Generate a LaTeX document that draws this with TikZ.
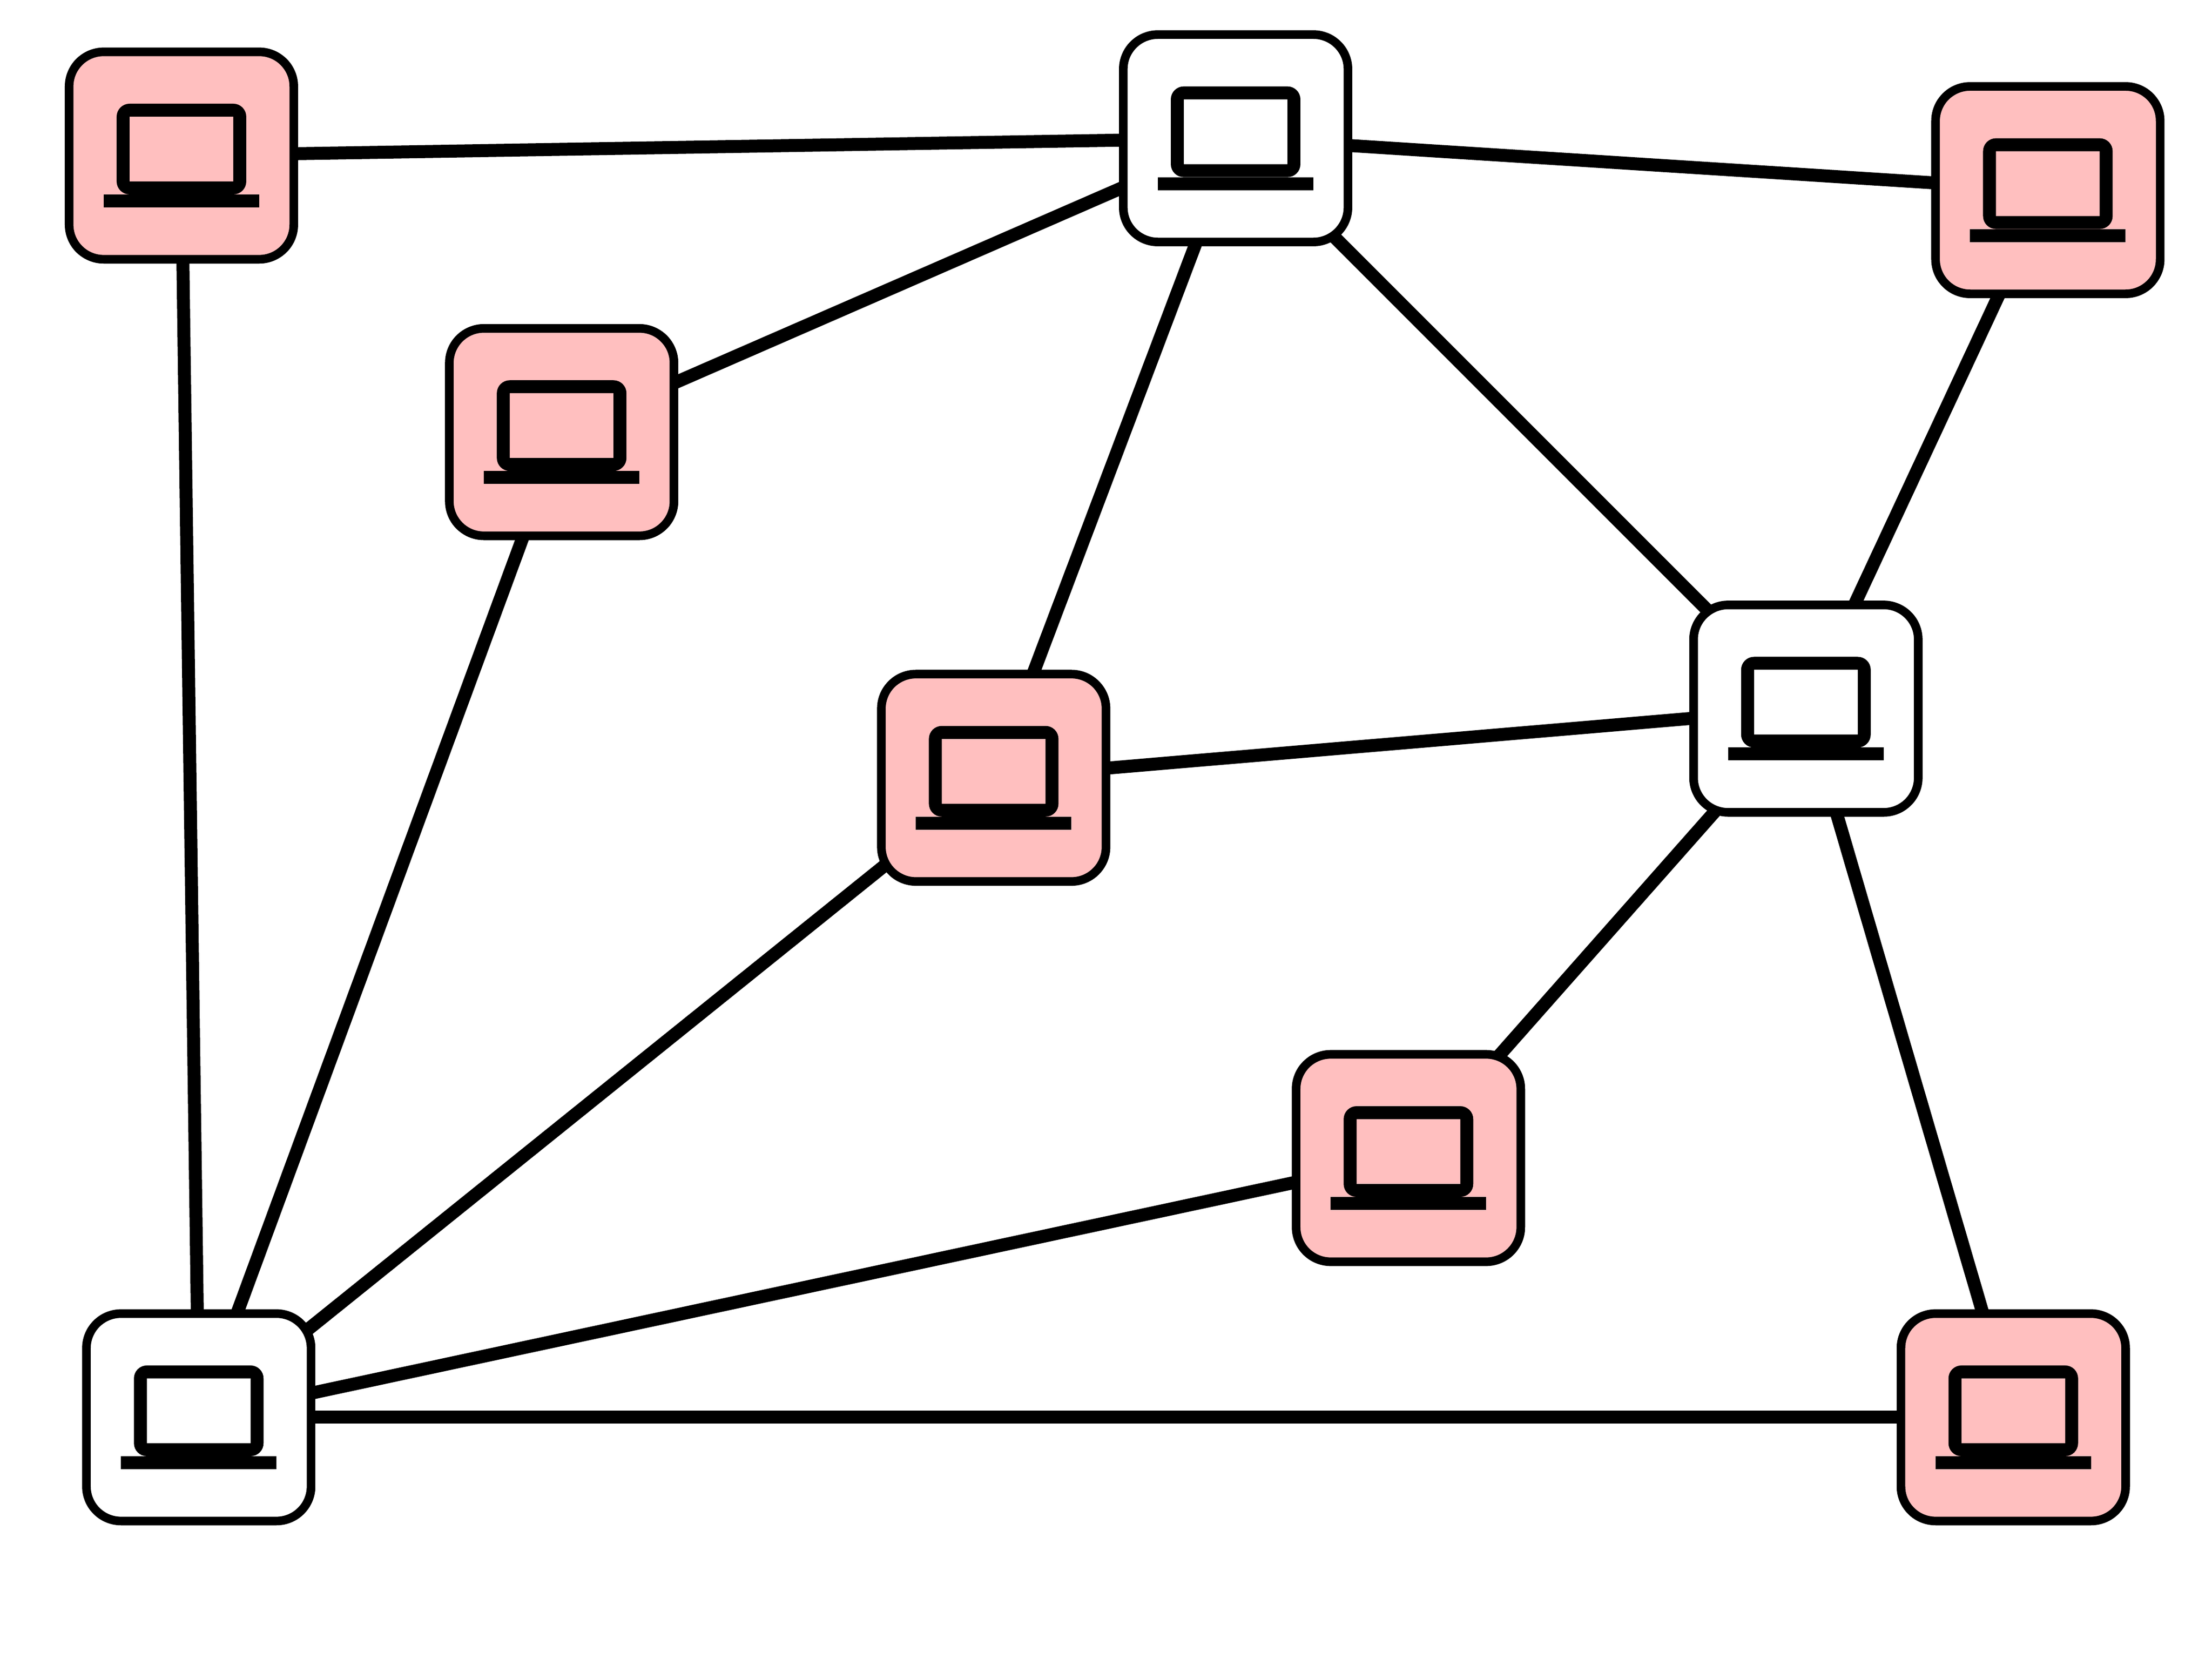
\documentclass[tikz,border=0pt]{standalone}
\usetikzlibrary{backgrounds}
\definecolor{infectedpink}{RGB}{255,191,191}
\tikzset{
  host/.style={draw,rectangle,rounded corners=15pt,line width=3.75pt,
    minimum width=97.5pt,minimum height=90pt,inner sep=0pt,
    path picture={
      \begin{scope}[shift={(path picture bounding box.center)},fill=black,draw=none]
        \fill[even odd rule,rounded corners=5.625pt]
          (-37.5,-30) rectangle (37.5,22.5)
          [sharp corners] (-30,-22.5) rectangle (30,15);
        \fill[sharp corners] (-45,22.5) rectangle (45,30);
      \end{scope}
    }},
  clean/.style={host,fill=white},
  infected/.style={host,fill=infectedpink},
  link/.style={line width=5.625pt}
}
\begin{document}
\begin{tikzpicture}[x=0.75pt,y=-0.75pt]
      \useasboundingbox (0,0) rectangle (1280,959.8);
      \path
        (105,90) node[infected] (0){}
        (715,80) node[clean] (1){}
        (1185,110) node[infected] (2){}
        (325,250) node[infected] (3){}
        (575,450) node[infected] (4){}
        (1045,410) node[clean] (5){}
        (815,670) node[infected] (6){}
        (115,820) node[clean] (7){}
        (1165,820) node[infected] (8){};
      \begin{scope}[on background layer={link}]
        \draw (0.center) to (1.center);
        \draw (0.center) to (7.center);
        \draw (1.center) to (2.center);
        \draw (1.center) to (3.center);
        \draw (1.center) to (4.center);
        \draw (1.center) to (5.center);
        \draw (2.center) to (5.center);
        \draw (3.center) to (7.center);
        \draw (4.center) to (5.center);
        \draw (4.center) to (7.center);
        \draw (5.center) to (6.center);
        \draw (5.center) to (8.center);
        \draw (6.center) to (7.center);
        \draw (7.center) to (8.center);
      \end{scope}
    \end{tikzpicture}
\end{document}
